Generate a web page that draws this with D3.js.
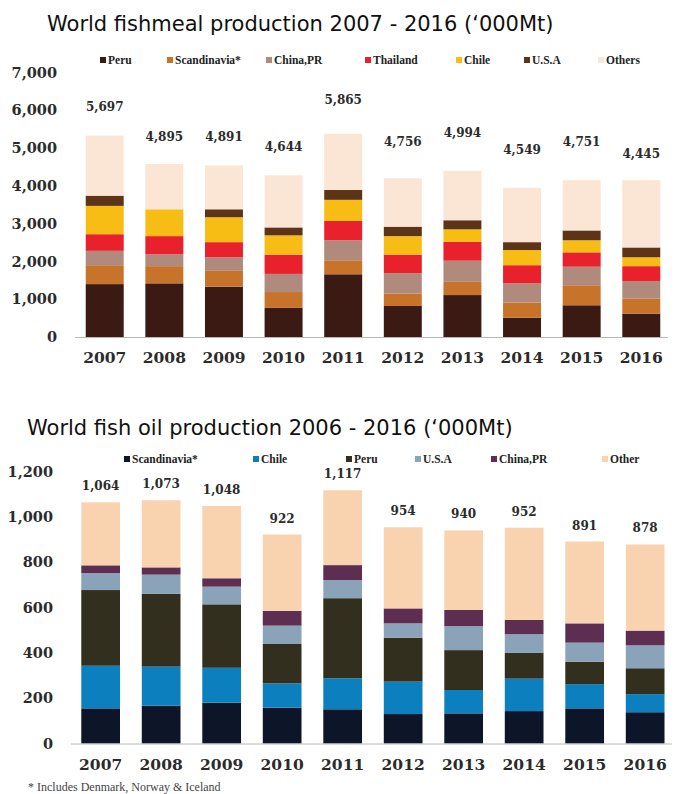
<!DOCTYPE html>
<html>
<head>
<meta charset="utf-8">
<script src="https://cdn.jsdelivr.net/npm/d3@7"></script>
<style>
  html, body { margin: 0; padding: 0; background: #ffffff; }
  svg { display: block; }
</style>
</head>
<body>
<svg id="chart" width="677" height="794"></svg>
<script>
// ---------- DATA ----------
const years = ["2007","2008","2009","2010","2011","2012","2013","2014","2015","2016"];

// Fishmeal ('000 Mt) — segment heights as drawn
const mealSeries = ["Peru","Scandinavia*","China,PR","Thailand","Chile","U.S.A","Others"];
const mealPeru        = [1400,1420,1330, 770,1660, 820,1110, 510, 840, 620];
const mealScandinavia = [ 500, 455, 420, 420, 370, 330, 350, 400, 530, 400];
const mealChina       = [ 380, 315, 360, 480, 530, 540, 560, 510, 490, 460];
const mealThailand    = [ 440, 480, 400, 510, 510, 490, 500, 480, 380, 395];
const mealChile       = [ 750, 710, 660, 510, 560, 490, 330, 400, 320, 235];
const mealUSA         = [ 270,   0, 210, 210, 260, 250, 240, 210, 260, 260];
const mealOthers      = [1590,1200,1160,1380,1490,1280,1310,1440,1330,1780];
const mealTotals      = [5697,4895,4891,4644,5865,4756,4994,4549,4751,4445];
const mealTicks       = [0,1000,2000,3000,4000,5000,6000,7000];
const mealColors      = ["#3b1a14","#c8732a","#b08a7c","#e8212d","#f8bd14","#5e3418","#fbe6d6"];

// Fish oil ('000 Mt)
const oilSeries = ["Scandinavia*","Chile","Peru","U.S.A","China,PR","Other"];
const oilScandinavia = [155,167,180,158,151,130,133,143,155,138];
const oilChile       = [188,172,154,107,137,143,103,143,107, 80];
const oilPeru        = [334,321,280,174,353,194,176,115, 99,114];
const oilUSA         = [ 75, 85, 78, 81, 80, 63,106, 81, 84,101];
const oilChina       = [ 34, 32, 37, 65, 66, 66, 71, 63, 85, 65];
const oilOther       = [278,296,319,337,330,358,351,407,361,380];
const oilTotals      = [1064,1073,1048,922,1117,954,940,952,891,878];
const oilTicks       = [0,200,400,600,800,1000,1200];
const oilColors      = ["#0c1628","#0c80bf","#332f1e","#8ba3b8","#5e2d52","#f9d3b0"];

const footnote = "* Includes Denmark, Norway & Iceland";

// ---------- LAYOUT ----------
const svg = d3.select("#chart");
const numFont = "'DejaVu Serif', serif";
const legFont = "'Liberation Serif', serif";
const titleFont = "'DejaVu Sans', sans-serif";

function buildRows(seriesNames, arrays) {
  return years.map((y, i) => {
    const row = { year: y };
    seriesNames.forEach((s, k) => row[s] = arrays[k][i]);
    return row;
  });
}

function drawPanel(cfg) {
  const g = svg.append("g");
  const x = d3.scaleBand().domain(years).range(cfg.xRange)
    .paddingInner(cfg.padIn).paddingOuter(cfg.padOut);
  const y = d3.scaleLinear().domain([0, cfg.yMax]).range(cfg.yRange);

  // Title
  g.append("text").attr("x", cfg.titleX).attr("y", cfg.titleY)
    .attr("font-family", titleFont).attr("font-size", cfg.titleSize)
    .attr("fill", "#111").text(cfg.title);

  // Y axis labels
  const yAxis = d3.axisLeft(y).tickValues(cfg.ticks).tickSize(0).tickPadding(0)
    .tickFormat(d3.format(","));
  const ya = g.append("g").attr("transform", `translate(${cfg.yLabelX},0)`).call(yAxis);
  ya.select(".domain").remove();
  ya.selectAll("text").attr("font-family", numFont).attr("font-weight", "bold")
    .attr("font-size", cfg.yLabelSize).attr("fill", "#2b2b2b");

  // Stacked bars
  const rows = buildRows(cfg.series, cfg.arrays);
  const stack = d3.stack().keys(cfg.series)(rows);
  const color = d3.scaleOrdinal().domain(cfg.series).range(cfg.colors);
  g.append("g").selectAll("g").data(stack).join("g")
    .attr("fill", d => color(d.key))
    .selectAll("rect").data(d => d).join("rect")
    .attr("x", d => x(d.data.year))
    .attr("width", x.bandwidth())
    .attr("y", d => y(d[1]))
    .attr("height", d => Math.max(0, y(d[0]) - y(d[1])));

  // Baseline
  g.append("line").attr("x1", cfg.xRange[0]).attr("x2", cfg.xRange[1] - 3)
    .attr("y1", y(0) + 0.5).attr("y2", y(0) + 0.5)
    .attr("stroke", "#b8b8b8").attr("stroke-width", 1);

  // X axis labels
  const xAxis = d3.axisBottom(x).tickSize(0).tickPadding(0);
  const xa = g.append("g").attr("transform", `translate(0,${cfg.yearY})`).call(xAxis);
  xa.select(".domain").remove();
  xa.selectAll("text").attr("font-family", numFont).attr("font-weight", "bold")
    .attr("font-size", cfg.yearSize).attr("fill", "#2b2b2b").attr("dy", "0.35em");

  // Total labels
  g.append("g").selectAll("text").data(cfg.totals).join("text")
    .attr("x", (d, i) => x(years[i]) + x.bandwidth() / 2)
    .attr("y", d => y(d) - cfg.totalOffset)
    .attr("text-anchor", "middle")
    .attr("font-family", numFont).attr("font-weight", "bold")
    .attr("font-size", cfg.totalSize).attr("fill", "#2b2b2b")
    .text(d3.format(","));

  // Legend
  const leg = g.append("g").selectAll("g").data(cfg.series).join("g")
    .attr("transform", (d, i) => `translate(${cfg.legendX[i]},${cfg.legendY})`);
  leg.append("rect").attr("x", 0).attr("y", -3).attr("width", 6).attr("height", 6)
    .attr("fill", d => color(d));
  leg.append("text").attr("x", 8).attr("y", 0).attr("dy", "0.35em")
    .attr("font-family", legFont).attr("font-weight", "bold")
    .attr("font-size", 11.5).attr("fill", "#222").text(d => d);
}

drawPanel({
  title: "World fishmeal production 2007 - 2016 (\u2018000Mt)",
  titleX: 47, titleY: 31, titleSize: 21,
  series: mealSeries,
  arrays: [mealPeru, mealScandinavia, mealChina, mealThailand, mealChile, mealUSA, mealOthers],
  colors: mealColors, totals: mealTotals, ticks: mealTicks,
  yMax: 7000, yRange: [337, 72.5],
  xRange: [75, 671], padIn: 0.363, padOut: 0.18,
  yLabelX: 57, yLabelSize: 14.5,
  yearY: 358, yearSize: 15.5,
  totalOffset: 11, totalSize: 12,
  legendX: [100, 167, 266, 365, 456, 524, 598], legendY: 60
});

drawPanel({
  title: "World fish oil production 2006 - 2016 (\u2018000Mt)",
  titleX: 27, titleY: 435, titleSize: 21,
  series: oilSeries,
  arrays: [oilScandinavia, oilChile, oilPeru, oilUSA, oilChina, oilOther],
  colors: oilColors, totals: oilTotals, ticks: oilTicks,
  yMax: 1200, yRange: [743.5, 471.5],
  xRange: [71, 674.8], padIn: 0.36, padOut: 0.17,
  yLabelX: 53, yLabelSize: 14.5,
  yearY: 765, yearSize: 15.5,
  totalOffset: 12, totalSize: 12,
  legendX: [124, 253, 346, 415, 491, 602], legendY: 459
});

svg.append("text").attr("x", 28).attr("y", 791)
  .attr("font-family", legFont).attr("font-size", 12).attr("fill", "#444")
  .text(footnote);
</script>
</body>
</html>
